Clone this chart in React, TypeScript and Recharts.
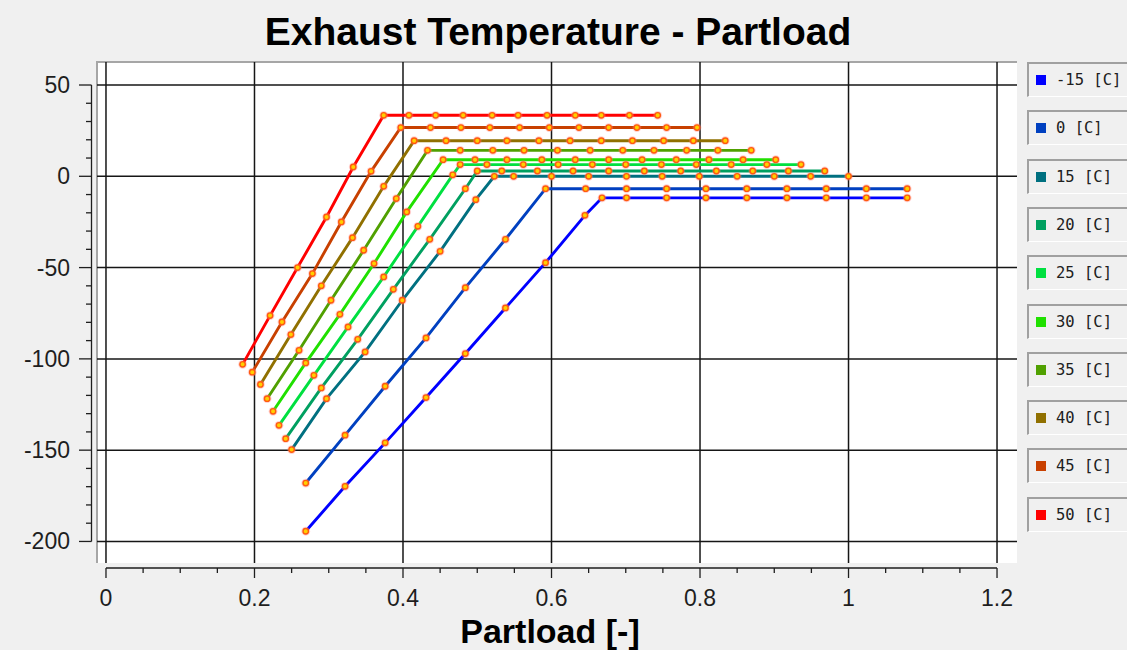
import { LineChart, Line, XAxis, YAxis, CartesianGrid, ReferenceLine } from "recharts";

type Pt = [number, number];

// exhaust temperature [C] vs partload [-], one curve per ambient temperature
const T_M15: Pt[] = [[0.269, -194.4], [0.322, -169.8], [0.376, -146], [0.431, -121.2], [0.484, -97.1], [0.538, -72.1], [0.592, -47.3], [0.645, -21.4], [0.668, -11.8], [0.701, -11.8], [0.755, -11.8], [0.808, -11.8], [0.863, -11.8], [0.917, -11.8], [0.970, -11.8], [1.024, -11.8], [1.079, -11.8]];
const T_0: Pt[] = [[0.269, -168], [0.322, -141.8], [0.376, -115], [0.431, -88.5], [0.484, -61], [0.538, -34.5], [0.592, -6.8], [0.646, -6.8], [0.701, -6.8], [0.755, -6.8], [0.808, -6.8], [0.863, -6.8], [0.917, -6.8], [0.970, -6.8], [1.024, -6.8], [1.079, -6.8]];
const T_15: Pt[] = [[0.25, -149.7], [0.297, -121.8], [0.349, -96.2], [0.399, -67.9], [0.45, -41.1], [0.498, -12.8], [0.523, 0], [0.549, 0], [0.6, 0], [0.65, 0], [0.701, 0], [0.749, 0], [0.799, 0], [0.85, 0], [0.9, 0], [0.949, 0], [1.0, 0]];
const T_20: Pt[] = [[0.242, -143.7], [0.29, -115.9], [0.339, -89.3], [0.387, -61.9], [0.436, -34.5], [0.484, -6.8], [0.5, 2.9], [0.533, 2.9], [0.581, 2.9], [0.629, 2.9], [0.677, 2.9], [0.725, 2.9], [0.774, 2.9], [0.822, 2.9], [0.871, 2.9], [0.919, 2.9], [0.968, 2.9]];
const T_25: Pt[] = [[0.233, -136.4], [0.28, -109], [0.326, -82.5], [0.374, -55.1], [0.42, -27.4], [0.467, 0.8], [0.477, 6.4], [0.513, 6.4], [0.562, 6.4], [0.609, 6.4], [0.655, 6.4], [0.7, 6.4], [0.748, 6.4], [0.795, 6.4], [0.842, 6.4], [0.89, 6.4], [0.936, 6.4]];
const T_30: Pt[] = [[0.225, -128.7], [0.269, -102.2], [0.315, -75.6], [0.361, -47.8], [0.405, -19.5], [0.454, 9.1], [0.497, 9.1], [0.54, 9.1], [0.587, 9.1], [0.632, 9.1], [0.677, 9.1], [0.722, 9.1], [0.768, 9.1], [0.812, 9.1], [0.858, 9.1], [0.902, 9.1]];
const T_35: Pt[] = [[0.217, -121.8], [0.26, -95.3], [0.303, -67.9], [0.347, -40.5], [0.391, -12.2], [0.433, 14.2], [0.477, 14.2], [0.521, 14.2], [0.563, 14.2], [0.608, 14.2], [0.652, 14.2], [0.696, 14.2], [0.738, 14.2], [0.782, 14.2], [0.824, 14.2], [0.869, 14.2]];
const T_40: Pt[] = [[0.208, -114], [0.249, -86.7], [0.29, -60], [0.332, -33.6], [0.374, -5.5], [0.415, 19.5], [0.458, 19.5], [0.5, 19.5], [0.54, 19.5], [0.583, 19.5], [0.625, 19.5], [0.667, 19.5], [0.709, 19.5], [0.751, 19.5], [0.791, 19.5], [0.834, 19.5]];
const T_45: Pt[] = [[0.197, -107.3], [0.237, -79.8], [0.278, -53.3], [0.317, -25], [0.357, 2.7], [0.397, 26.7], [0.437, 26.7], [0.478, 26.7], [0.517, 26.7], [0.557, 26.7], [0.597, 26.7], [0.637, 26.7], [0.677, 26.7], [0.715, 26.7], [0.755, 26.7], [0.796, 26.7]];
const T_50: Pt[] = [[0.184, -103], [0.221, -76.3], [0.258, -50], [0.297, -22.3], [0.333, 5.1], [0.374, 33.4], [0.408, 33.4], [0.444, 33.4], [0.481, 33.4], [0.52, 33.4], [0.555, 33.4], [0.594, 33.4], [0.632, 33.4], [0.667, 33.4], [0.705, 33.4], [0.743, 33.4]];

const AMBIENT = [-15, 0, 15, 20, 25, 30, 35, 40, 45, 50];
const CURVES = [T_M15, T_0, T_15, T_20, T_25, T_30, T_35, T_40, T_45, T_50];
const COLORS = ["#0000ff", "#0040c0", "#007080", "#00a060", "#00e040", "#20e000", "#50a000", "#907000", "#c84000", "#ff0000"];

const X_MAJOR = [0, 0.2, 0.4, 0.6, 0.8, 1, 1.2];
const X_TICKS = [0, 0.05, 0.1, 0.15, 0.2, 0.25, 0.3, 0.35, 0.4, 0.45, 0.5, 0.55, 0.6, 0.65, 0.7, 0.75, 0.8, 0.85, 0.9, 0.95, 1, 1.05, 1.1, 1.15, 1.2];
const Y_MAJOR = [-200, -150, -100, -50, 0, 50];
const Y_TICKS = [-200, -190, -180, -170, -160, -150, -140, -130, -120, -110, -100, -90, -80, -70, -60, -50, -40, -30, -20, -10, 0, 10, 20, 30, 40, 50];

const W = 1127;
const H = 650;
const PLOT = { left: 97, top: 62, right: 1017, bottom: 563 };
const X_DOMAIN: [number, number] = [-0.0121, 1.2269];
const Y_DOMAIN: [number, number] = [-211.8, 62.6];

// axis lines sit a few pixels outside the white plot frame
const AXIS_GAP = 5;
const xPerPx = (X_DOMAIN[1] - X_DOMAIN[0]) / (PLOT.right - PLOT.left);
const yPerPx = (Y_DOMAIN[1] - Y_DOMAIN[0]) / (PLOT.bottom - PLOT.top);
const Y_AXIS_X = X_DOMAIN[0] - (AXIS_GAP + 0.5) * xPerPx;
const X_AXIS_Y = Y_DOMAIN[0] - AXIS_GAP * yPerPx;

const TICK_FONT = "'Liberation Sans', Arial, sans-serif";
const INK = "#1e1e1e";

function YTick(props: any) {
  const { x, y, payload } = props;
  const v = payload.value;
  const major = Y_MAJOR.includes(v);
  const ax = x - AXIS_GAP - 0.5;
  return (
    <g>
      <line x1={ax} x2={ax - (major ? 12.5 : 5.5)} y1={y} y2={y} stroke={INK} strokeWidth={1.3} />
      {major && (
        <text x={ax - 21.5} y={y + 8} textAnchor="end" fontFamily={TICK_FONT} fontSize={23} fill={INK}>
          {v}
        </text>
      )}
    </g>
  );
}

function XTick(props: any) {
  const { x, y, payload } = props;
  const v = payload.value;
  const major = X_MAJOR.includes(v);
  const ay = y + AXIS_GAP;
  return (
    <g>
      <line x1={x} x2={x} y1={ay} y2={ay + (major ? 10 : 5)} stroke={INK} strokeWidth={1.3} />
      {major && (
        <text x={x} y={ay + 38} textAnchor="middle" fontFamily={TICK_FONT} fontSize={23} fill={INK}>
          {String(v)}
        </text>
      )}
    </g>
  );
}

function renderDot(props: any) {
  const { cx, cy, index } = props;
  if (cx == null || cy == null) return <g key={index} />;
  return (
    <g key={index}>
      <circle cx={cx} cy={cy} r={4.4} fill="#ff7a7a" opacity={0.35} />
      <circle cx={cx} cy={cy} r={2.7} fill="#ffd000" stroke="#ff5a10" strokeWidth={1.4} />
    </g>
  );
}

export default function App() {
  return (
    <div
      style={{
        position: "absolute",
        left: 0,
        top: 0,
        width: W,
        height: H,
        background: "#f0f0f0",
        overflow: "hidden",
      }}
    >
      {/* sunken white plot frame */}
      <div
        style={{
          position: "absolute",
          left: PLOT.left - 1,
          top: PLOT.top - 1,
          width: PLOT.right - PLOT.left + 1,
          height: PLOT.bottom - PLOT.top + 1,
          boxSizing: "border-box",
          background: "#ffffff",
          borderTop: "2px solid #a6a6a6",
          borderLeft: "2px solid #a6a6a6",
        }}
      />
      <svg width={W} height={H} style={{ position: "absolute", left: 0, top: 0 }}>
        <text
          x={558}
          y={45}
          textAnchor="middle"
          fontFamily={TICK_FONT}
          fontWeight="bold"
          fontSize={39}
          fill="#000"
        >
          Exhaust Temperature - Partload
        </text>
        <text x={550} y={643} textAnchor="middle" fontFamily={TICK_FONT} fontWeight="bold" fontSize={34} fill="#000">
          Partload [-]
        </text>
      </svg>
      <div style={{ position: "absolute", left: 0, top: 0 }}>
        <LineChart
          width={W}
          height={H}
          margin={{ top: PLOT.top, right: W - PLOT.right, bottom: 0, left: 0 }}
        >
          <CartesianGrid
            horizontalValues={Y_MAJOR}
            verticalValues={X_MAJOR}
            stroke="#161616"
            strokeWidth={1.5}
            strokeDasharray=""
          />
          <XAxis
            type="number"
            dataKey="x"
            domain={X_DOMAIN}
            allowDataOverflow
            ticks={X_TICKS}
            interval={0}
            height={H - PLOT.bottom}
            tickSize={0}
            tickMargin={0}
            axisLine={false}
            tickLine={false}
            tick={<XTick />}
          />
          <YAxis
            type="number"
            domain={Y_DOMAIN}
            allowDataOverflow
            ticks={Y_TICKS}
            interval={0}
            width={PLOT.left}
            tickSize={0}
            tickMargin={0}
            axisLine={false}
            tickLine={false}
            tick={<YTick />}
          />
          <ReferenceLine
            segment={[{ x: Y_AXIS_X, y: -200 }, { x: Y_AXIS_X, y: 50 }]}
            stroke={INK}
            strokeWidth={1.3}
            ifOverflow="visible"
          />
          <ReferenceLine
            segment={[{ x: 0, y: X_AXIS_Y }, { x: 1.2, y: X_AXIS_Y }]}
            stroke={INK}
            strokeWidth={1.3}
            ifOverflow="visible"
          />
          {CURVES.map((pts, i) => (
            <Line
              key={AMBIENT[i]}
              name={`${AMBIENT[i]} [C]`}
              data={pts.map(([x, y]) => ({ x, y }))}
              dataKey="y"
              type="linear"
              stroke={COLORS[i]}
              strokeWidth={2.9}
              dot={renderDot}
              activeDot={false}
              isAnimationActive={false}
            />
          ))}
        </LineChart>
      </div>
      {/* legend: one sunken box per ambient temperature */}
      {AMBIENT.map((t, i) => (
        <div
          key={t}
          style={{
            position: "absolute",
            left: 1027,
            top: 62 + i * 48.3,
            width: 120,
            height: 35,
            boxSizing: "border-box",
            borderTop: "2px solid #a0a0a0",
            borderLeft: "2px solid #a0a0a0",
            borderBottom: "1px solid #ffffff",
            display: "flex",
            alignItems: "center",
            fontFamily: "'DejaVu Sans Mono', monospace",
            fontSize: 15.5,
            color: "#202020",
          }}
        >
          <span
            style={{ display: "inline-block", width: 10, height: 10, marginLeft: 7, background: COLORS[i] }}
          />
          <span style={{ marginLeft: 10, whiteSpace: "pre" }}>{`${t} [C]`}</span>
        </div>
      ))}
    </div>
  );
}
